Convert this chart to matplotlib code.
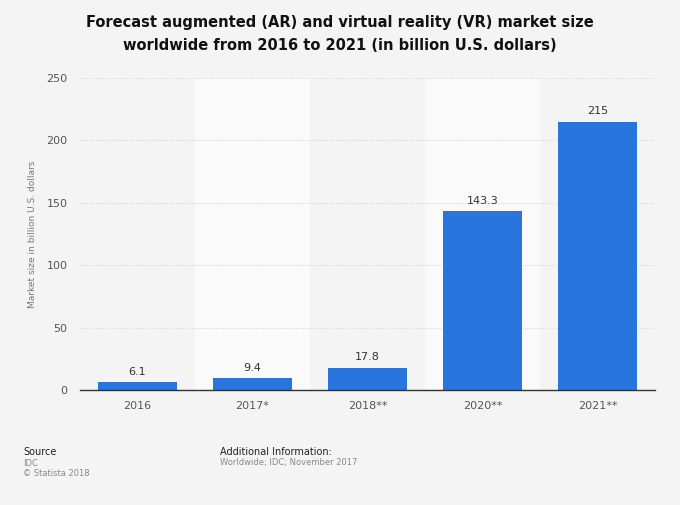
import matplotlib
matplotlib.use('Agg')
import matplotlib.pyplot as plt
import numpy as np

# data
years = ['2016', '2017*', '2018**', '2020**', '2021**']
market_size = [6.1, 9.4, 17.8, 143.3, 215]
value_labels = ['6.1', '9.4', '17.8', '143.3', '215']

bg = '#f4f4f4'
bar_color = '#2876dd'

fig = plt.figure(figsize=(6.8, 5.05), dpi=100)
fig.patch.set_facecolor(bg)
ax = fig.add_axes([80 / 680, 1 - 390 / 505, 575 / 680, 312 / 505])
ax.set_facecolor(bg)

x = np.arange(len(years))
# alternating lighter bands
for i in x:
    if i % 2 == 1:
        ax.axvspan(i - 0.5, i + 0.5, color='#fafafa', zorder=0, lw=0)

ax.bar(x, market_size, width=0.69, color=bar_color, zorder=3)
for xi, v, lab in zip(x, market_size, value_labels):
    ax.annotate(lab, (xi, v), xytext=(0, 4), textcoords='offset points',
                ha='center', va='bottom', fontsize=8, color='#333333')

ax.set_xlim(-0.5, len(years) - 0.5)
ax.set_ylim(0, 250)
ax.set_yticks([0, 50, 100, 150, 200, 250])
ax.set_xticks(x)
ax.set_xticklabels(years)
ax.tick_params(axis='both', length=0, labelsize=8, colors='#555555')
ax.tick_params(axis='y', pad=9)
ax.tick_params(axis='x', pad=8)
ax.yaxis.grid(True, color='#dddddd', linestyle=(0, (1, 1)), linewidth=0.8, zorder=1)
for s in ['top', 'right', 'left']:
    ax.spines[s].set_visible(False)
ax.spines['bottom'].set_color('#333333')
ax.spines['bottom'].set_linewidth(1.0)
ax.spines['bottom'].set_zorder(4)

ax.set_ylabel('Market size in billion U.S. dollars', fontsize=6.5, color='#777777', labelpad=7)

fig.text(0.5, 1 - 34 / 505, 'Forecast augmented (AR) and virtual reality (VR) market size\n'
         'worldwide from 2016 to 2021 (in billion U.S. dollars)',
         ha='center', va='center', fontsize=10.5, fontweight='bold', color='#111111',
         linespacing=1.6)

fig.text(23 / 680, 1 - 452 / 505, 'Source', fontsize=7, color='#222222', va='center')
fig.text(23 / 680, 1 - 463 / 505, 'IDC', fontsize=6, color='#888888', va='center')
fig.text(23 / 680, 1 - 473 / 505, '\u00a9 Statista 2018', fontsize=6, color='#888888', va='center')
fig.text(220 / 680, 1 - 452 / 505, 'Additional Information:', fontsize=7, color='#222222', va='center')
fig.text(220 / 680, 1 - 463 / 505, 'Worldwide; IDC; November 2017', fontsize=6, color='#888888', va='center')

fig.savefig('out.png', dpi=100, facecolor=bg)
